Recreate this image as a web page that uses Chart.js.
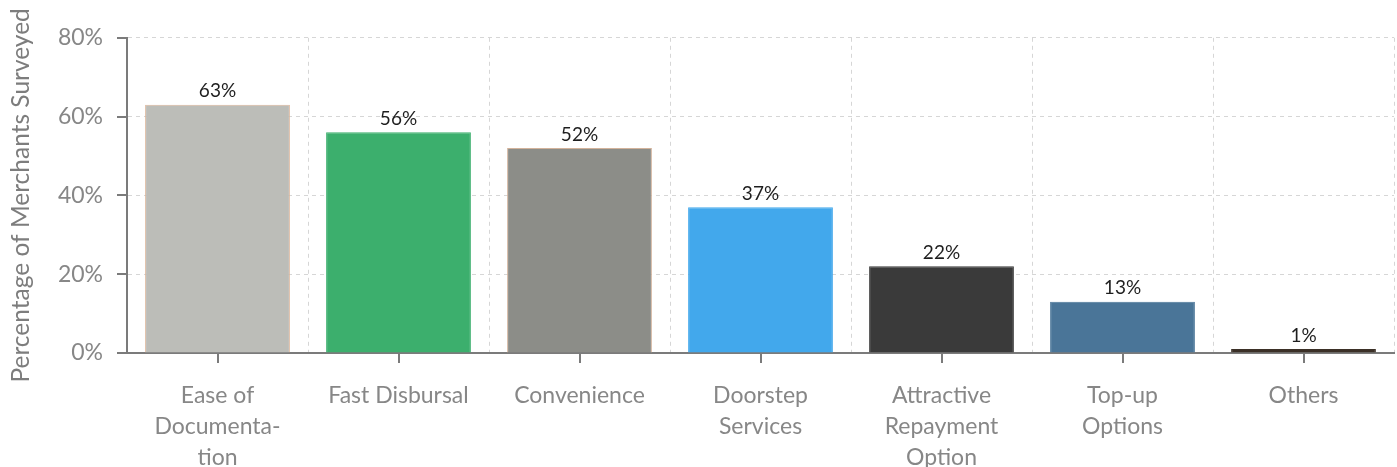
<!DOCTYPE html>
<html>
<head>
<meta charset="utf-8">
<script src="https://cdn.jsdelivr.net/npm/chart.js@4/dist/chart.umd.min.js"></script>
<style>
  html, body { margin: 0; padding: 0; background: #fff; }
  #wrap { width: 1397px; height: 467px; position: relative; }
</style>
</head>
<body>
<div id="wrap"><canvas id="reasonsChart"></canvas></div>
<script>
// Razones de preferencia (etiquetas partidas en líneas)
const categories = [
  ['Ease of', 'Documenta-', 'tion'],
  'Fast Disbursal',
  'Convenience',
  ['Doorstep', 'Services'],
  ['Attractive', 'Repayment', 'Option'],
  ['Top-up', 'Options'],
  'Others',
];

// Porcentaje de comercios encuestados
const percentages = [63, 56, 52, 37, 22, 13, 1];

// Marcas del eje Y
const yTicks = [0, 20, 40, 60, 80];

const barColors = ['#bcbdb8', '#3caf6d', '#8c8d88', '#42a8ec', '#3a3a3a', '#4a7598', '#3b3027'];
const barBorders = ['#dcb79c', '#3caf6d', '#d2b29a', '#42a8ec', '#3a3a3a', '#4a7598', '#3b3027'];

const axisColor = '#7b7b7b';
const fontFamily = 'Lato, "Open Sans", sans-serif';

// Marcas de los ejes dibujadas a mano (sólidas, centradas en cada categoría)
const tickMarks = {
  id: 'tickMarks',
  afterDraw(chart) {
    const { ctx, chartArea, scales } = chart;
    ctx.save();
    ctx.strokeStyle = axisColor;
    ctx.lineWidth = 2;
    scales.y.ticks.forEach((t, i) => {
      const y = Math.round(scales.y.getPixelForTick(i));
      ctx.beginPath();
      ctx.moveTo(chartArea.left - 10, y);
      ctx.lineTo(chartArea.left, y);
      ctx.stroke();
    });
    categories.forEach((c, i) => {
      const x = Math.round(scales.x.getPixelForValue(i));
      ctx.beginPath();
      ctx.moveTo(x, chartArea.bottom);
      ctx.lineTo(x, chartArea.bottom + 10);
      ctx.stroke();
    });
    ctx.restore();
  },
};

// Valor encima de cada barra
const valueLabels = {
  id: 'valueLabels',
  afterDatasetsDraw(chart) {
    const { ctx } = chart;
    const meta = chart.getDatasetMeta(0);
    ctx.save();
    ctx.font = '19px ' + fontFamily;
    ctx.fillStyle = '#1e1e1e';
    ctx.textAlign = 'center';
    ctx.textBaseline = 'bottom';
    meta.data.forEach((bar, i) => {
      ctx.fillText(percentages[i] + '%', bar.x, bar.y - 4);
    });
    ctx.restore();
  },
};

new Chart(document.getElementById('reasonsChart'), {
  type: 'bar',
  data: {
    labels: categories,
    datasets: [
      {
        label: 'Percentage of Merchants Surveyed',
        data: percentages,
        backgroundColor: barColors,
        borderColor: barBorders,
        borderWidth: 1,
        barPercentage: 0.8,
        categoryPercentage: 1,
      },
    ],
  },
  options: {
    responsive: true,
    maintainAspectRatio: false,
    animation: false,
    layout: { padding: { top: 37, right: 3, left: 0, bottom: 0 } },
    plugins: {
      legend: { display: false },
      tooltip: { enabled: false },
    },
    scales: {
      x: {
        grid: {
          offset: true,
          color: '#d6d6d6',
          lineWidth: 1,
          drawTicks: false,
        },
        border: { display: true, color: axisColor, width: 2, dash: [4, 4] },
        ticks: {
          color: '#878787',
          padding: 27,
          maxRotation: 0,
          autoSkip: false,
          font: { family: fontFamily, size: 23, lineHeight: 1.35 },
        },
        afterFit(scale) {
          scale.height = 114;
        },
      },
      y: {
        min: 0,
        max: 80,
        afterBuildTicks(scale) {
          scale.ticks = yTicks.map((v) => ({ value: v }));
        },
        grid: {
          color: '#d6d6d6',
          lineWidth: 1,
          drawTicks: false,
        },
        border: { display: true, color: axisColor, width: 2, dash: [4, 4] },
        ticks: {
          color: '#878787',
          padding: 24,
          font: { family: fontFamily, size: 23 },
          callback: (v) => v + '%',
        },
        title: {
          display: true,
          text: 'Percentage of Merchants Surveyed',
          color: '#7d7d7d',
          padding: { top: 6, bottom: 10 },
          font: { family: fontFamily, size: 24.5 },
        },
        afterFit(scale) {
          scale.width = 127;
        },
      },
    },
  },
  plugins: [tickMarks, valueLabels],
});
</script>
</body>
</html>
